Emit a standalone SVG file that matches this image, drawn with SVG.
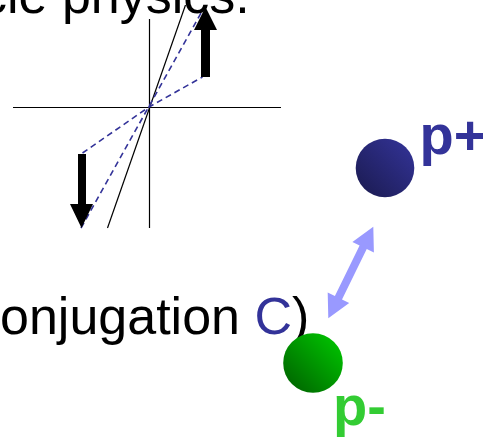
<svg xmlns="http://www.w3.org/2000/svg" width="483" height="440" viewBox="0 0 483 440">
  <defs>
    <linearGradient id="gBlue" x1="1" y1="0" x2="0" y2="1">
      <stop offset="0" stop-color="#34349a"/>
      <stop offset="1" stop-color="#1a1a4e"/>
    </linearGradient>
    <linearGradient id="gGreen" x1="1" y1="0" x2="0" y2="1">
      <stop offset="0" stop-color="#00cc00"/>
      <stop offset="1" stop-color="#005c00"/>
    </linearGradient>
    <style>
      .txt { font-family: "Liberation Sans", Arial, sans-serif; font-size: 52px; fill: #000; }
      .lbl { font-family: "Liberation Sans", Arial, sans-serif; font-size: 56px; font-weight: bold; }
      .axis { stroke: #000; stroke-width: 1.2; fill: none; }
      .dash { stroke: #333399; stroke-width: 1.6; stroke-dasharray: 6 4; fill: none; }
      .bigarrow { fill: #000; }
    </style>
  </defs>
  <rect width="483" height="440" fill="#fff"/>

  <g id="plot">
    <line class="axis" x1="13" y1="107.5" x2="281" y2="107.5"/>
    <line class="axis" x1="149.5" y1="19" x2="149.5" y2="228"/>
    <line class="axis" x1="107.5" y1="228" x2="185.5" y2="5"/>
    <polyline class="dash" points="82.5,153 149,107 202.5,77"/>
    <line class="dash" x1="81" y1="228" x2="205" y2="6"/>
    <path class="bigarrow" d="M201,77 L201,30 L194,30 L205.5,7 L217,30 L210,30 L210,77 Z"/>
    <path class="bigarrow" d="M78,154 L86,154 L86,204 L93,204 L81.5,228 L70,204 L78,204 Z"/>
  </g>

  <g id="title">
    <text class="txt" x="-19" y="13">cle physics.</text>
  </g>

  <g id="caption">
    <text class="txt" x="0" y="334">onjugation <tspan fill="#333399">C</tspan>)</text>
  </g>

  <g id="connectors">
    <polygon fill="#9999ff" points="373.3,226.7 373.9,252.6 366.75,249.1 342,299.4 349.2,303 328.3,318.3 327.7,292.4 334.9,295.9 359.6,245.6 352.4,242"/>
  </g>

  <g id="p-plus">
    <circle cx="385" cy="168" r="29.3" fill="url(#gBlue)"/>
    <text class="lbl" x="419.5" y="154" fill="#333399">p+</text>
  </g>

  <g id="p-minus">
    <circle cx="313" cy="363" r="29.8" fill="url(#gGreen)"/>
    <text class="lbl" x="333" y="425" fill="#33cc33">p-</text>
  </g>
</svg>
